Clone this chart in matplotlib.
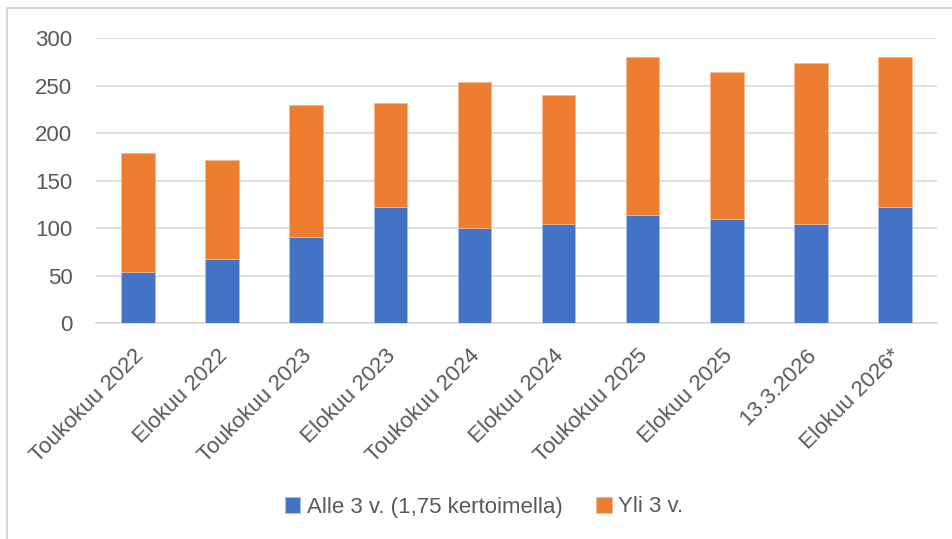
import numpy as np
import matplotlib
matplotlib.use("Agg")
import matplotlib.pyplot as plt
import matplotlib.transforms as mtransforms
from matplotlib.lines import Line2D

plt.rcParams['font.family'] = ['Liberation Sans', 'DejaVu Sans']

# data
categories = ['Toukokuu 2022', 'Elokuu 2022', 'Toukokuu 2023', 'Elokuu 2023',
              'Toukokuu 2024', 'Elokuu 2024', 'Toukokuu 2025', 'Elokuu 2025',
              '13.3.2026', 'Elokuu 2026*']
alle3 = [54, 68, 91, 122, 100, 105, 114, 110, 105, 122]
totals = [179, 172, 230, 232, 254, 240, 280, 265, 274, 280]
yli3 = [t - a for t, a in zip(totals, alle3)]

blue = '#4472C4'
orange = '#ED7D31'
txt = '#595959'

fig = plt.figure(figsize=(9.52, 5.39), dpi=100)
ax = fig.add_axes([96 / 952, 1 - 323.3 / 539, (937 - 96) / 952, (323.3 - 38.3) / 539])

x = np.arange(len(categories))
ax.bar(x, alle3, width=0.4, color=blue, edgecolor='#a9c0ea', linewidth=0.5,
       label='Alle 3 v. (1,75 kertoimella)', zorder=3)
ax.bar(x, yli3, width=0.4, bottom=alle3, color=orange, edgecolor='#f7b98f',
       linewidth=0.5, label='Yli 3 v.', zorder=3)

ax.set_xlim(-0.5, len(categories) - 0.5)
ax.set_ylim(0, 300)
ax.set_yticks(range(0, 301, 50))
ax.yaxis.grid(True, color='#d9d9d9', linewidth=1.2, zorder=0)
ax.set_axisbelow(True)
for s in ['top', 'right', 'left']:
    ax.spines[s].set_visible(False)
ax.spines['bottom'].set_color('#d9d9d9')
ax.spines['bottom'].set_linewidth(1.2)
ax.tick_params(axis='both', length=0, labelsize=16, colors=txt)
ax.tick_params(axis='y', pad=17)
ax.set_xticks(x)
ax.set_xticklabels(categories, rotation=45, ha='right', va='top',
                   rotation_mode='anchor')
ax.tick_params(axis='x', pad=12)
# nudge the slanted labels down-left along their baseline
shift = mtransforms.ScaledTranslation(-5 / 100, -5 / 100, fig.dpi_scale_trans)
for lab in ax.get_xticklabels():
    lab.set_transform(lab.get_transform() + shift)

leg = ax.legend(loc='center', ncol=2, frameon=False, fontsize=16,
                handlelength=0.7, handleheight=0.7, handletextpad=0.3,
                columnspacing=1.5, labelcolor=txt)
leg.set_bbox_to_anchor((0.5 + 8 / 952, 1 - 507 / 539), transform=fig.transFigure)

# chart frame (cropped)
fig.add_artist(Line2D([6.5 / 952, 6.5 / 952], [0, 1 - 8 / 539], color='#d9d9d9',
                      linewidth=1.5, transform=fig.transFigure))
fig.add_artist(Line2D([6.5 / 952, 1], [1 - 8 / 539, 1 - 8 / 539], color='#d9d9d9',
                      linewidth=1.5, transform=fig.transFigure))

fig.savefig('out.png', dpi=100)
